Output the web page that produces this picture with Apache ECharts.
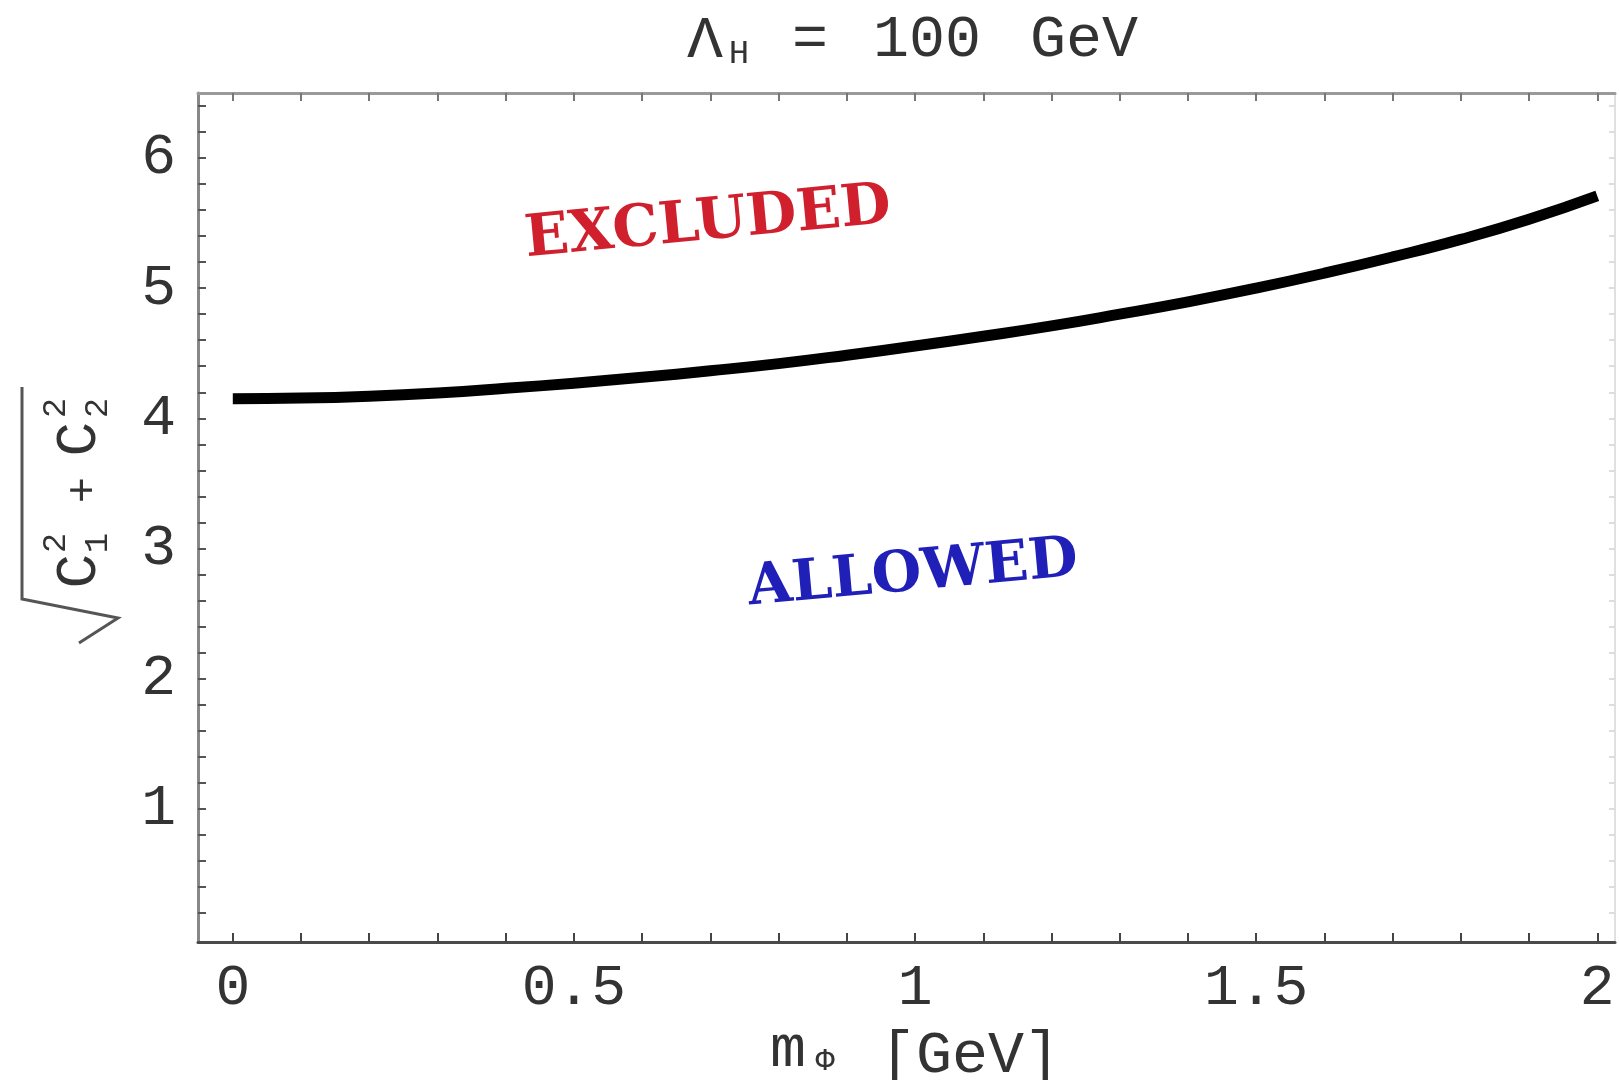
<!DOCTYPE html>
<html>
<head>
<meta charset="utf-8">
<script src="https://cdn.jsdelivr.net/npm/echarts@6/dist/echarts.min.js"></script>
<style>
html,body{margin:0;padding:0;background:#fff;}
#c{width:1619px;height:1080px;}
</style>
</head>
<body>
<div id="c"></div>
<script>
// ---- data ----
const xValues = [0, 0.1, 0.2, 0.3, 0.4, 0.5, 0.6, 0.7, 0.8, 0.9, 1.0, 1.1, 1.2, 1.3, 1.4, 1.5, 1.6, 1.7, 1.8, 1.9, 2.0];
const yValues = [4.15, 4.155, 4.17, 4.195, 4.23, 4.27, 4.315, 4.365, 4.42, 4.485, 4.555, 4.63, 4.71, 4.80, 4.895, 5.00, 5.115, 5.24, 5.375, 5.53, 5.71];
const xTickLabels = [0, 0.5, 1, 1.5, 2];
const yTickLabels = [1, 2, 3, 4, 5, 6];
const xTickMarks = [0, 0.1, 0.2, 0.3, 0.4, 0.5, 0.6, 0.7, 0.8, 0.9, 1.0, 1.1, 1.2, 1.3, 1.4, 1.5, 1.6, 1.7, 1.8, 1.9, 2.0];
const yTickMarks = [0.2, 0.4, 0.6, 0.8, 1.0, 1.2, 1.4, 1.6, 1.8, 2.0, 2.2, 2.4, 2.6, 2.8, 3.0, 3.2, 3.4, 3.6, 3.8, 4.0, 4.2, 4.4, 4.6, 4.8, 5.0, 5.2, 5.4, 5.6, 5.8, 6.0, 6.2, 6.4];
const regionLabels = ['EXCLUDED', 'ALLOWED'];

const MONO = '"Liberation Mono", "DejaVu Sans Mono", monospace';
const chart = echarts.init(document.getElementById('c'), null, {renderer: 'canvas'});

const lineData = xValues.map((x, i) => [x, yValues[i]]);

function txt(text, x, y, size, opts) {
  opts = opts || {};
  return {
    type: 'text', x: x, y: y, rotation: opts.rotation || 0, z: 10,
    style: {
      text: text,
      font: (opts.weight || 'normal') + ' ' + size + 'px ' + (opts.family || MONO),
      fill: opts.color || '#333',
      align: opts.align || 'center',
      verticalAlign: 'middle'
    }
  };
}

const R = Math.PI / 2;

const option = {
  backgroundColor: '#fff',
  animation: false,
  grid: {left: 198, right: 4, top: 93, bottom: 138, containLabel: false},
  xAxis: [
    {
      type: 'value', min: -0.051, max: 2.026, position: 'bottom',
      axisLine: {show: true, onZero: false, lineStyle: {color: '#4a4a4a', width: 3}},
      axisTick: {show: true, inside: true, length: 9, customValues: xTickMarks, lineStyle: {color: '#444', width: 2}},
      axisLabel: {show: true, customValues: xTickLabels, margin: 18, fontFamily: MONO, fontSize: 58, color: '#333'},
      splitLine: {show: false}
    },
    {
      type: 'value', min: -0.051, max: 2.026, position: 'top',
      axisLine: {show: true, onZero: false, lineStyle: {color: '#9a9a9a', width: 3}},
      axisTick: {show: true, inside: true, length: 8, customValues: xTickMarks, lineStyle: {color: '#777', width: 2}},
      axisLabel: {show: false},
      splitLine: {show: false}
    }
  ],
  yAxis: [
    {
      type: 'value', min: -0.025, max: 6.5, position: 'left',
      axisLine: {show: true, onZero: false, lineStyle: {color: '#888', width: 3}},
      axisTick: {show: true, inside: true, length: 8, customValues: yTickMarks, lineStyle: {color: '#555', width: 2}},
      axisLabel: {show: true, customValues: yTickLabels, margin: 22, fontFamily: MONO, fontSize: 58, color: '#333'},
      splitLine: {show: false}
    },
    {
      type: 'value', min: -0.025, max: 6.5, position: 'right',
      axisLine: {show: true, onZero: false, lineStyle: {color: '#e0e0e0', width: 2}},
      axisTick: {show: true, inside: true, length: 6, customValues: yTickMarks, lineStyle: {color: '#ddd', width: 2}},
      axisLabel: {show: false},
      splitLine: {show: false}
    }
  ],
  series: [
    {
      type: 'line', xAxisIndex: 0, yAxisIndex: 0,
      data: lineData, smooth: 0.5, showSymbol: false,
      lineStyle: {color: '#000', width: 11, cap: 'butt', join: 'round'},
      z: 5
    }
  ],
  graphic: [
    // title
    txt('Λ', 705, 41, 60),
    txt('H', 739, 54, 34),
    txt('=', 810, 40, 60),
    txt('100', 927, 40, 60),
    txt('GeV', 1084, 40, 60),
    // x axis name
    txt('m', 788, 1050, 60),
    txt('Φ', 825, 1062, 32),
    txt('[GeV]', 970, 1056, 60),
    // region labels
    txt(regionLabels[0], 708, 224, 58, {weight: 'bold', family: '"DejaVu Serif", serif', color: '#d0202e', rotation: 0.094}),
    txt(regionLabels[1], 913, 575, 57, {weight: 'bold', family: '"DejaVu Serif", serif', color: '#2020b8', rotation: 0.09}),
    // y axis name: sqrt(C1^2 + C2^2), rotated
    txt('C', 80, 571, 58, {rotation: R}),
    txt('2', 56, 543, 34, {rotation: R}),
    txt('1', 98, 543, 34, {rotation: R}),
    txt('+', 84, 490, 44, {rotation: R}),
    txt('C', 80, 439, 58, {rotation: R}),
    txt('2', 56, 408, 34, {rotation: R}),
    txt('2', 98, 408, 34, {rotation: R}),
    {
      type: 'polyline', z: 10,
      shape: {points: [[22, 387], [22, 599], [118, 618], [79, 643]]},
      style: {stroke: '#555', lineWidth: 3, fill: null}
    }
  ]
};
chart.setOption(option);
</script>
</body>
</html>
